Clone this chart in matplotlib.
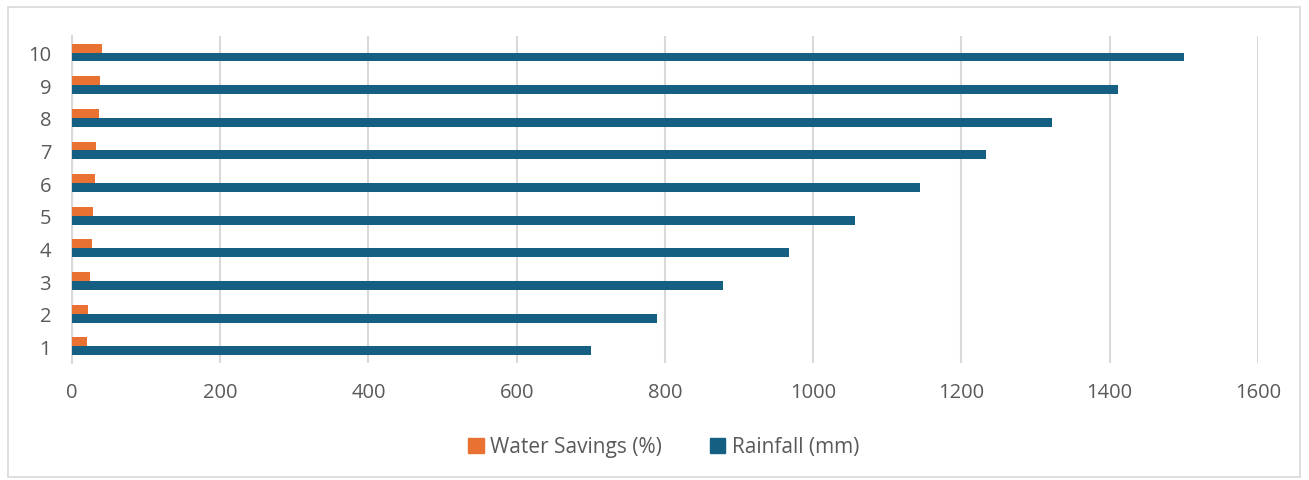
import matplotlib
matplotlib.use("Agg")
import matplotlib.pyplot as plt
import numpy as np
from matplotlib.patches import FancyBboxPatch, Patch

categories = ["1", "2", "3", "4", "5", "6", "7", "8", "9", "10"]
water_savings = [20, 22, 24, 27, 29, 31, 33, 36, 38, 40]
rainfall = [700, 789, 878, 967, 1056, 1144, 1233, 1322, 1411, 1500]
x_ticks = [0, 200, 400, 600, 800, 1000, 1200, 1400, 1600]

orange = "#E97132"
blue = "#156082"
grid_c = "#D9D9D9"
text_c = "#595959"

plt.rcParams['font.family'] = ['Open Sans', 'DejaVu Sans']

fig = plt.figure(figsize=(13.09, 4.81), dpi=100)
ax = fig.add_axes([0.055, 0.2437, 0.906, 0.679])

y = np.arange(len(categories))
h = 0.275
ax.barh(y + h / 2, water_savings, height=h, color=orange, label="Water Savings (%)", zorder=3)
ax.barh(y - h / 2, rainfall, height=h, color=blue, label="Rainfall (mm)", zorder=3)

ax.set_xlim(0, 1600)
ax.set_ylim(-0.5, len(categories) - 0.5)
ax.set_xticks(x_ticks)
ax.set_xticklabels([str(v) for v in x_ticks])
ax.set_yticks(y)
ax.set_yticklabels(categories)
ax.tick_params(axis='both', length=0, labelsize=14.5, labelcolor=text_c)
ax.tick_params(axis='x', pad=14)
ax.tick_params(axis='y', pad=15)
ax.grid(axis='x', color=grid_c, linewidth=1.5, zorder=0)
for s in ['top', 'right', 'bottom']:
    ax.spines[s].set_visible(False)
ax.spines['left'].set_color(grid_c)
ax.spines['left'].set_linewidth(1.5)

handles = [Patch(color=orange, label="Water Savings (%)"), Patch(color=blue, label="Rainfall (mm)")]
fig.legend(handles=handles, loc='center', bbox_to_anchor=(0.507, 1 - 448 / 481), ncol=2,
           frameon=False, fontsize=15, labelcolor=text_c, handlelength=0.75, handleheight=0.75,
           handletextpad=0.3, columnspacing=2.3)

border = FancyBboxPatch((8 / 1309, 3 / 481), 1292 / 1309, 470 / 481, boxstyle="square,pad=0",
                        transform=fig.transFigure, fill=False, edgecolor=grid_c, linewidth=1.2)
fig.patches.append(border)

fig.savefig("out.png", dpi=100)
